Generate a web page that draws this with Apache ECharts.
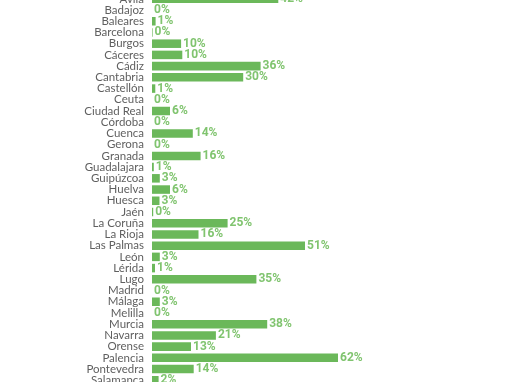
<!DOCTYPE html>
<html>
<head>
<meta charset="utf-8">
<script src="https://cdn.jsdelivr.net/npm/echarts@6/dist/echarts.min.js"></script>
<style>
html,body{margin:0;padding:0;width:510px;height:382px;overflow:hidden;background:#fff;}
#c{position:absolute;left:0;top:-20px;width:510px;height:420px;}
</style>
</head>
<body>
<div id="c"></div>
<script>
const categories = ["Ávila","Badajoz","Baleares","Barcelona","Burgos","Cáceres","Cádiz","Cantabria","Castellón","Ceuta","Ciudad Real","Córdoba","Cuenca","Gerona","Granada","Guadalajara","Guipúzcoa","Huelva","Huesca","Jaén","La Coruña","La Rioja","Las Palmas","León","Lérida","Lugo","Madrid","Málaga","Melilla","Murcia","Navarra","Orense","Palencia","Pontevedra","Salamanca"];
const values = [42.1,0,1.2,0.2,9.7,10.1,36.2,30.4,1.1,0,6,0,13.6,0,16.2,0.6,2.6,6,2.5,0.4,25.2,15.5,51,2.6,1,34.8,0,2.6,0,38.4,21.3,13,62,13.9,2.2];

const chart = echarts.init(document.getElementById('c'));
chart.setOption({
  animation:false,
  grid:{left:152,width:300,top:13.2,height:392.7},
  xAxis:{type:'value',min:0,max:100,show:false},
  yAxis:{type:'category',data:categories,inverse:true,
    axisLine:{show:false},axisTick:{show:false},
    axisLabel:{interval:0,margin:8,color:'#5f5f5f',fontSize:11.5,fontFamily:'Lato, sans-serif'}},
  series:[{type:'bar',data:values,barWidth:'76%',
    itemStyle:{color:'#6bb85a'},
    label:{show:true,position:'right',distance:2,color:'#80c46f',fontWeight:'bold',fontSize:12,
      fontFamily:'Roboto, sans-serif',
      formatter:p=>Math.round(p.value)+'%'}}]
});
</script>
</body>
</html>
